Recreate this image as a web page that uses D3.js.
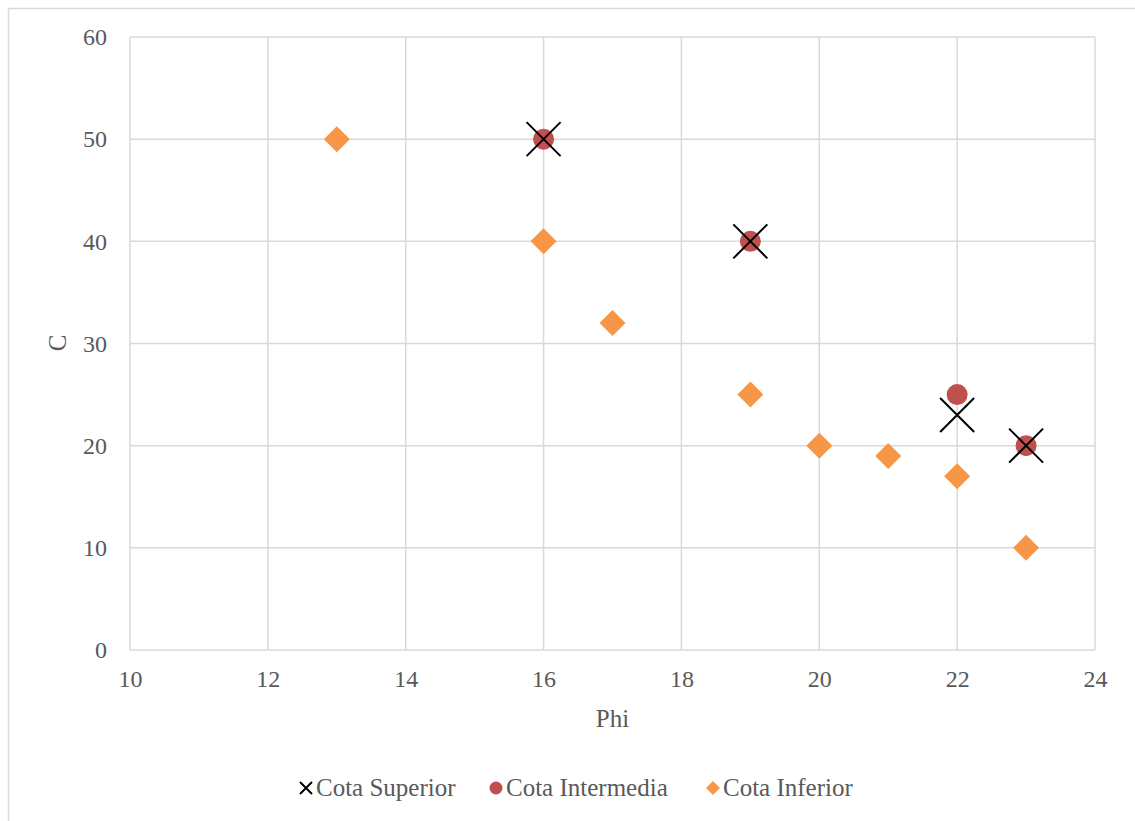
<!DOCTYPE html>
<html><head><meta charset="utf-8">
<script src="https://cdn.jsdelivr.net/npm/d3@7"></script>
<style>body{margin:0;background:#fff}svg text{font-family:"Liberation Serif","DejaVu Serif",serif;fill:#595959}</style>
</head><body><svg id="c" width="1135" height="821"></svg>
<script>
const xTicks = [10,12,14,16,18,20,22,24];
const yTicks = [0,10,20,30,40,50,60];
const superiorPhi = [16,19,22,23];
const superiorC = [50,40,23,20];
const intermediaPhi = [16,19,22,23];
const intermediaC = [50,40,25,20];
const inferiorPhi = [13,16,17,19,20,21,22,23];
const inferiorC = [50,40,32,25,20,19,17,10];
const seriesNames = ["Cota Superior","Cota Intermedia","Cota Inferior"];

const FS = "24px", FL = "25px";
const svg = d3.select("#c");
svg.append("rect").attr("x",8.5).attr("y",8.5).attr("width",1140).attr("height",830)
  .attr("fill","#fff").attr("stroke","#d9d9d9").attr("stroke-width",1.5);

const L=130,R=1095,T=37,B=650;
const x = d3.scaleLinear().domain([10,24]).range([L,R]);
const y = d3.scaleLinear().domain([0,60]).range([B,T]);

const g = svg.append("g");
g.selectAll(".gx").data(xTicks).join("line").attr("x1",d=>x(d)).attr("x2",d=>x(d)).attr("y1",T).attr("y2",B)
  .attr("stroke","#d9d9d9").attr("stroke-width",1.5);
g.selectAll(".gy").data(yTicks).join("line").attr("y1",d=>y(d)).attr("y2",d=>y(d)).attr("x1",L).attr("x2",R)
  .attr("stroke","#d9d9d9").attr("stroke-width",1.5);

const xa = svg.append("g").attr("transform",`translate(0,${B})`).call(d3.axisBottom(x).tickValues(xTicks).tickSize(0).tickPadding(20));
xa.select(".domain").remove();
xa.selectAll("text").style("font-size",FS).attr("fill","#595959");
const ya = svg.append("g").attr("transform",`translate(${L},0)`).call(d3.axisLeft(y).tickValues(yTicks).tickSize(0).tickPadding(23));
ya.select(".domain").remove();
ya.selectAll("text").style("font-size",FS).attr("fill","#595959");

svg.append("text").attr("x",(L+R)/2).attr("y",727).attr("text-anchor","middle").style("font-size",FL).text("Phi");
svg.append("text").attr("transform","translate(66,343) rotate(-90)").attr("text-anchor","middle").style("font-size",FL).text("C");

const inf = inferiorPhi.map((p,i)=>({p,c:inferiorC[i]}));
const mid = intermediaPhi.map((p,i)=>({p,c:intermediaC[i]}));
const sup = superiorPhi.map((p,i)=>({p,c:superiorC[i]}));
const diamond = "M0,-13L13,0L0,13L-13,0Z";
svg.selectAll(".inf").data(inf).join("path").attr("d",diamond)
  .attr("transform",d=>`translate(${x(d.p)},${y(d.c)})`).attr("fill","#f79646");
svg.selectAll(".mid").data(mid).join("circle").attr("cx",d=>x(d.p)).attr("cy",d=>y(d.c)).attr("r",10.5).attr("fill","#c0504d");
const cross = "M-17,-17L17,17M-17,17L17,-17";
svg.selectAll(".sup").data(sup).join("path").attr("d",cross)
  .attr("transform",d=>`translate(${x(d.p)},${y(d.c)})`).attr("stroke","#000").attr("stroke-width",2).attr("fill","none");

// legend
const leg = svg.append("g");
const items = [{n:seriesNames[0],x:306},{n:seriesNames[1],x:496},{n:seriesNames[2],x:713}];
leg.append("path").attr("d","M-6,-6L6,6M-6,6L6,-6").attr("transform",`translate(${items[0].x},788)`).attr("stroke","#000").attr("stroke-width",2);
leg.append("circle").attr("cx",items[1].x).attr("cy",788).attr("r",6.5).attr("fill","#c0504d");
leg.append("path").attr("d","M0,-7L7,0L0,7L-7,0Z").attr("transform",`translate(${items[2].x},788)`).attr("fill","#f79646");
leg.selectAll("text").data(items).join("text").attr("x",d=>d.x+10).attr("y",796).style("font-size",FL).text(d=>d.n);
</script></body></html>
